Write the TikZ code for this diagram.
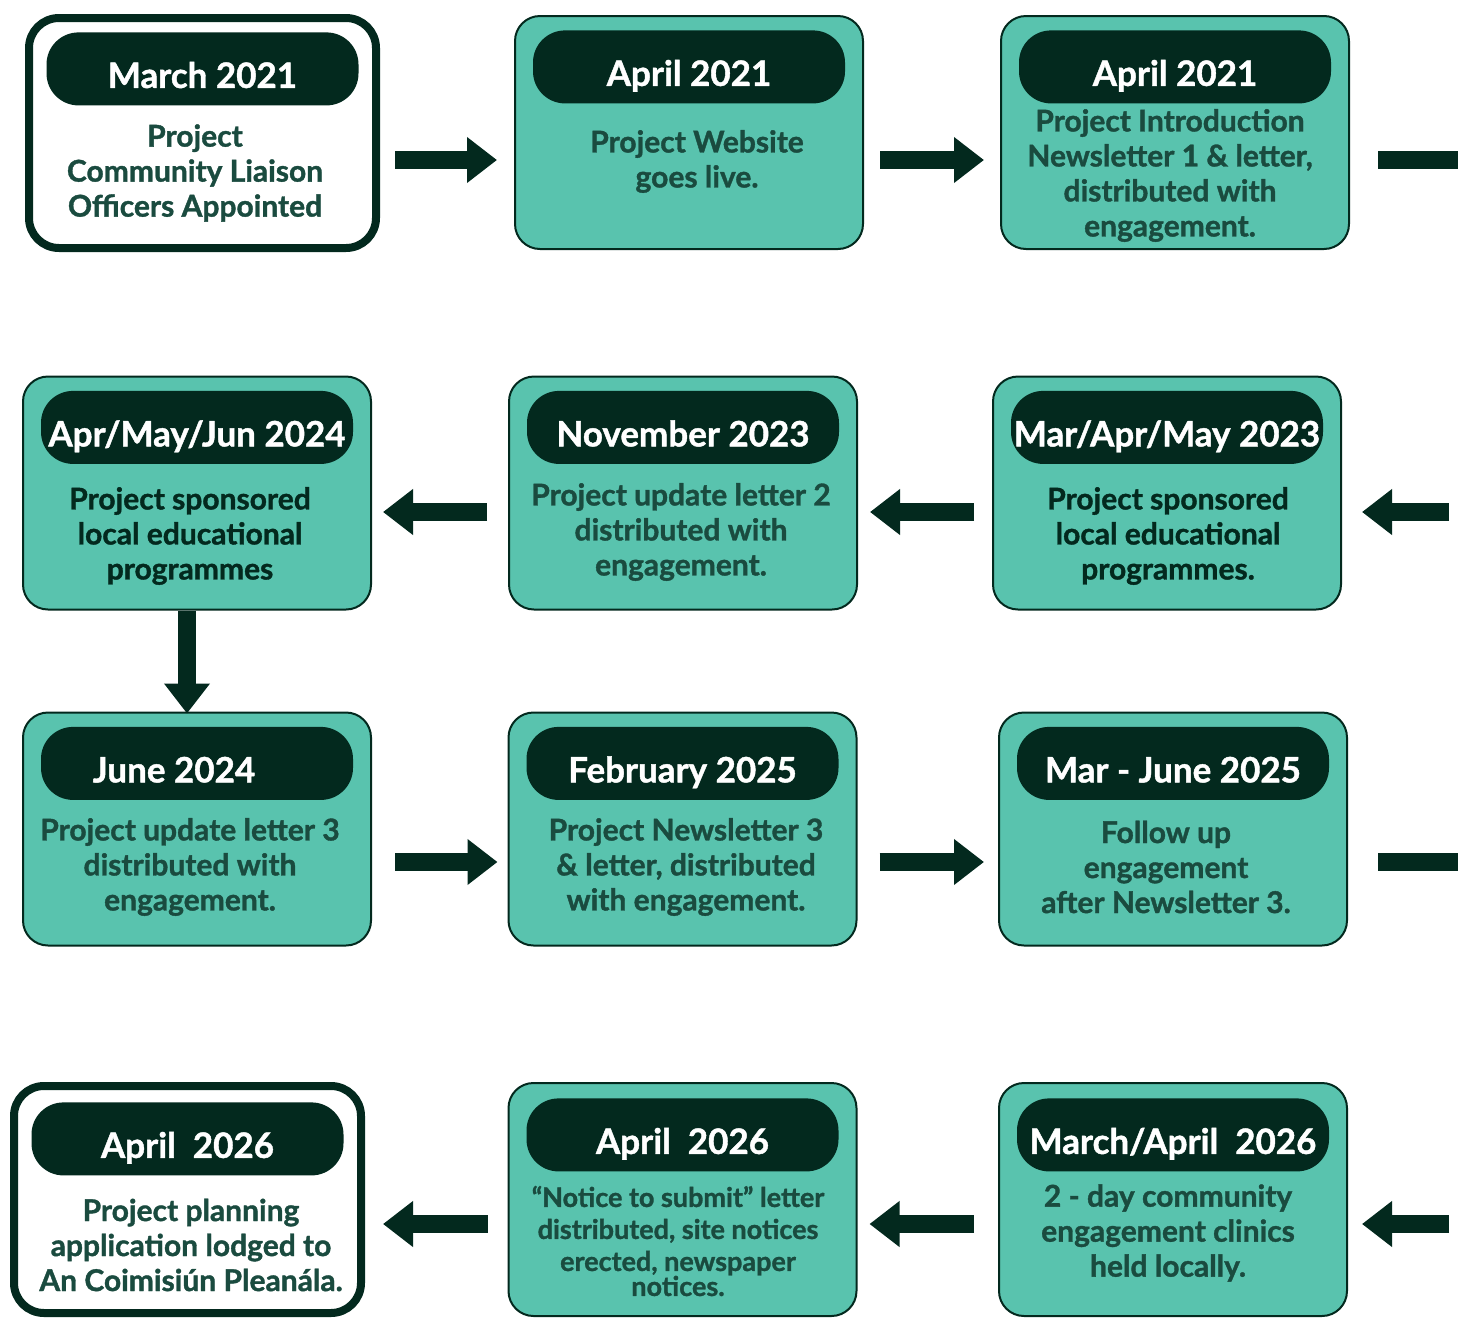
\documentclass[tikz,border=0pt]{standalone}
\usepackage{fontspec}
\setmainfont{Lato}[BoldFeatures={FakeBold=1.2}]
\usetikzlibrary{arrows.meta}
\definecolor{stagefill}{HTML}{59C3AE}
\definecolor{dkgreen}{HTML}{03291E}
\definecolor{bodytxt}{HTML}{1A4B3F}
\tikzset{
  stage/.style={draw=dkgreen, line width=1pt, fill=stagefill, rounded corners=12.5pt,
    minimum width=174pt, minimum height=116.5pt, inner sep=0pt},
  endstage/.style={stage, fill=white, line width=4pt, rounded corners=15pt,
    minimum width=173.5pt, minimum height=115pt},
  head/.style={fill=dkgreen, rounded corners=16pt, anchor=north, text=white,
    minimum width=156pt, minimum height=36.5pt, inner sep=0pt,
    text height=19pt, text depth=0pt,
    font=\fontsize{17.5}{20}\selectfont\bfseries},
  body/.style={text=bodytxt, align=center, font=\fontsize{15}{17.5}\selectfont\bfseries},
  arr/.style={draw=dkgreen, line width=9pt, -{Triangle[width=22pt,length=15pt]}},
  bar/.style={draw=dkgreen, line width=9pt}
}
\begin{document}
\begin{tikzpicture}[x=0.5pt,y=-0.5pt]
\useasboundingbox (0,0) rectangle (1458,1318);
% row 1
\node[endstage] (s1) at (202.5,133) {};
\node[stage] (s2) at (689,132.5) {};
\node[stage] (s3) at (1175,132.5) {};
\node[head] (h1) at ([yshift=-9pt]s1.north) {March 2021};
\node[head] (h2) at ([yshift=-7.5pt]s2.north) {April 2021};
\node[head] (h3) at ([yshift=-7.5pt]s3.north) {April 2021};
\node[body] (t1) at (195,173) {Project\\Community Liaison\\Officers Appointed};
\node[body] (t2) at (697,161.5) {Project Website\\goes live.};
\node[body] (t3) at (1170,175.5) {Project Introduction\\Newsletter 1 \& letter,\\distributed with\\engagement.};
% row 2
\node[stage] (sA) at (197,493) {};
\node[stage] (sB) at (683,493) {};
\node[stage] (sC) at (1167,493) {};
\node[head] (hA) at ([yshift=-7.5pt]sA.north) {Apr/May/Jun 2024};
\node[head] (hB) at ([yshift=-7.5pt]sB.north) {November 2023};
\node[head] (hC) at ([yshift=-7.5pt]sC.north) {Mar/Apr/May 2023};
\node[body, text=dkgreen] (tA) at (190,536) {Project sponsored\\local educational\\programmes};
\node[body] (tB) at (681,532) {Project update letter 2\\distributed with\\engagement.};
\node[body, text=dkgreen] (tC) at (1168,536) {Project sponsored\\local educational\\programmes.};
% row 3
\node[stage] (sD) at (197,829) {};
\node[stage] (sE) at (682.5,829) {};
\node[stage] (sF) at (1173,829) {};
\node[head] (hD) at ([yshift=-7.5pt]sD.north) {June 2024\hspace*{23pt}};
\node[head] (hE) at ([yshift=-7.5pt]sE.north) {February 2025};
\node[head] (hF) at ([yshift=-7.5pt]sF.north) {Mar - June 2025};
\node[body] (tD) at (190,867) {Project update letter 3\\distributed with\\engagement.};
\node[body] (tE) at (686,867) {Project Newsletter 3\\\& letter, distributed\\with engagement.};
\node[body] (tF) at (1166,867) {Follow up\\engagement\\after Newsletter 3.};
% row 4
\node[endstage, minimum height=113.5pt] (sG) at (187.5,1199.5) {};
\node[stage] (sH) at (682.5,1199.5) {};
\node[stage] (sI) at (1173,1199.5) {};
\node[head] (hG) at ([yshift=-10pt]sG.north) {April\ \ 2026};
\node[head] (hH) at ([yshift=-8pt]sH.north) {April\ \ 2026};
\node[head] (hI) at ([yshift=-8pt]sI.north) {March/April\ \ 2026};
\node[body] (tG) at (191,1245) {Project planning\\application lodged to\\An Coimisiún Pleanála.};
\node[body, font=\fontsize{13.5}{16}\selectfont\bfseries] (tH) at (678,1241)
  {“Notice to submit” letter\\distributed, site notices\\erected, newspaper\\[-3.5pt]notices.};
\node[body] (tI) at (1168,1233) {2 - day community\\engagement clinics\\held locally.};
% connectors
\coordinate (out1) at (1458,160);
\coordinate (in2) at (1449,512);
\coordinate (out3) at (1458,862);
\coordinate (in4) at (1449,1224);
\draw[arr, shorten <=7.5pt, shorten >=8.5pt] (s1.east |- 0,160) -- (s2.west |- 0,160);
\draw[arr, shorten <=8pt, shorten >=8pt] (s2.east |- 0,160) -- (s3.west |- 0,160);
\draw[bar, shorten <=14pt] (s3.east |- out1) -- (out1);
\draw[arr, shorten >=10pt] (in2) -- (sC.east |- in2);
\draw[arr, shorten <=9pt, shorten >=6pt] (sC.west |- in2) -- (sB.east |- in2);
\draw[arr, shorten <=10.5pt, shorten >=5.5pt] (sB.west |- in2) -- (sA.east |- in2);
\draw[arr, shorten >=-1pt] (sA.south -| 187,0) -- (sD.north -| 187,0);
\draw[arr, shorten <=11.5pt, shorten >=5pt] (sD.east |- out3) -- (sE.west |- out3);
\draw[arr, shorten <=11pt, shorten >=7pt] (sE.east |- out3) -- (sF.west |- out3);
\draw[bar, shorten <=15pt] (sF.east |- out3) -- (out3);
\draw[arr, shorten >=7pt] (in4) -- (sI.east |- in4);
\draw[arr, shorten <=12pt, shorten >=6pt] (sI.west |- in4) -- (sH.east |- in4);
\draw[arr, shorten <=10pt, shorten >=9pt] (sH.west |- in4) -- (sG.east |- in4);
\end{tikzpicture}
\end{document}
